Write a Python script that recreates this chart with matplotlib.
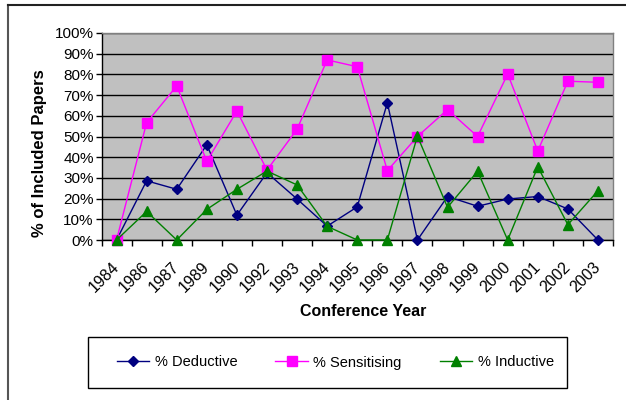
import matplotlib
matplotlib.use("Agg")
import matplotlib.pyplot as plt
import matplotlib.transforms as mtransforms
from matplotlib.lines import Line2D
from matplotlib.patches import Rectangle
import numpy as np

plt.rcParams['font.family'] = ['Liberation Sans', 'DejaVu Sans']

years = ["1984", "1986", "1987", "1989", "1990", "1992", "1993", "1994", "1995",
         "1996", "1997", "1998", "1999", "2000", "2001", "2002", "2003"]
deductive = [0, 28.6, 24.5, 46, 12, 32.5, 19.8, 6.7, 16, 66.3, 0, 21, 16.3, 19.8, 21, 15, 0]
sensitising = [0, 56.7, 74.4, 38, 62.3, 33.8, 53.5, 87, 83.7, 33.5, 50, 63, 50, 80.2, 43, 76.7, 76.2]
inductive = [0, 13.8, 0, 14.8, 24.5, 33.3, 26.6, 6.6, 0, 0, 50.2, 15.8, 33.2, 0, 35.4, 7.4, 23.8]

W, H = 626, 400
fig = plt.figure(figsize=(W / 100, H / 100), dpi=100)
fig.patch.set_facecolor("white")

# outer chart frame (left and top edges)
fig.add_artist(Line2D([8 / W, 8 / W], [0, 1 - 4.5 / H], transform=fig.transFigure,
                      color="#555555", lw=1.5))
fig.add_artist(Line2D([8 / W, 1], [1 - 4.5 / H, 1 - 4.5 / H], transform=fig.transFigure,
                      color="#222222", lw=1.5))

left, right, top, bottom = 101.5, 613, 33, 240
ax = fig.add_axes([left / W, 1 - bottom / H, (right - left) / W, (bottom - top) / H])
ax.set_facecolor("#C0C0C0")

x = np.arange(len(years))
ax.plot(x, deductive, color="#000080", marker="D", markersize=5.5, lw=1,
        label="% Deductive", clip_on=False, zorder=3)
ax.plot(x, sensitising, color="#FF00FF", marker="s", markersize=7, lw=1,
        label="% Sensitising", clip_on=False, zorder=3)
ax.plot(x, inductive, color="#008000", marker="^", markersize=7.5, lw=1,
        label="% Inductive", clip_on=False, zorder=4)

ax.set_xlim(-0.5, len(years) - 0.5)
ax.set_ylim(0, 100)

# tick geometry first, labels afterwards
ax.tick_params(axis="x", which="major", length=0, pad=14, labelsize=11.5)
ax.tick_params(axis="x", which="minor", length=4, width=1, color="black")
ax.tick_params(axis="y", length=4.5, width=1, color="black", pad=1, labelsize=11)

ax.set_yticks(np.arange(0, 101, 10))
ax.set_yticklabels([f"{v}%" for v in range(0, 101, 10)])
ax.yaxis.grid(True, color="black", lw=1)
ax.set_axisbelow(True)

ax.set_xticks(x)
ax.set_xticks(np.arange(-0.5, len(years)), minor=True)
ax.set_xticklabels(years, rotation=45, ha="right", va="top",
                   rotation_mode="anchor")
shift = mtransforms.ScaledTranslation(-5 / 100, 0, fig.dpi_scale_trans)
for lab in ax.get_xticklabels():
    lab.set_transform(lab.get_transform() + shift)

for side in ("top", "right"):
    ax.spines[side].set_color("#808080")
    ax.spines[side].set_linewidth(1)
for side in ("left", "bottom"):
    ax.spines[side].set_color("black")
    ax.spines[side].set_linewidth(1)

fig.text(40 / W, 1 - 153 / H, "% of Included Papers", rotation=90, fontsize=12,
         fontweight="bold", ha="center", va="center")
fig.text(363 / W, 1 - 312 / H, "Conference Year", fontsize=11.5,
         fontweight="bold", ha="center", va="center")

# legend box
fig.add_artist(Rectangle((88 / W, 1 - 388 / H), 479 / W, 51 / H,
                         transform=fig.transFigure, facecolor="white",
                         edgecolor="black", lw=1, zorder=1))
leg = fig.legend(loc="center left", ncol=3,
                 bbox_to_anchor=(117 / W, 1 - 362.5 / H),
                 fontsize=10.5, numpoints=1, handlelength=2.2, handletextpad=0.4,
                 columnspacing=2.6, frameon=False, borderpad=0, borderaxespad=0)
leg.set_zorder(2)

fig.savefig("out.png", dpi=100)
